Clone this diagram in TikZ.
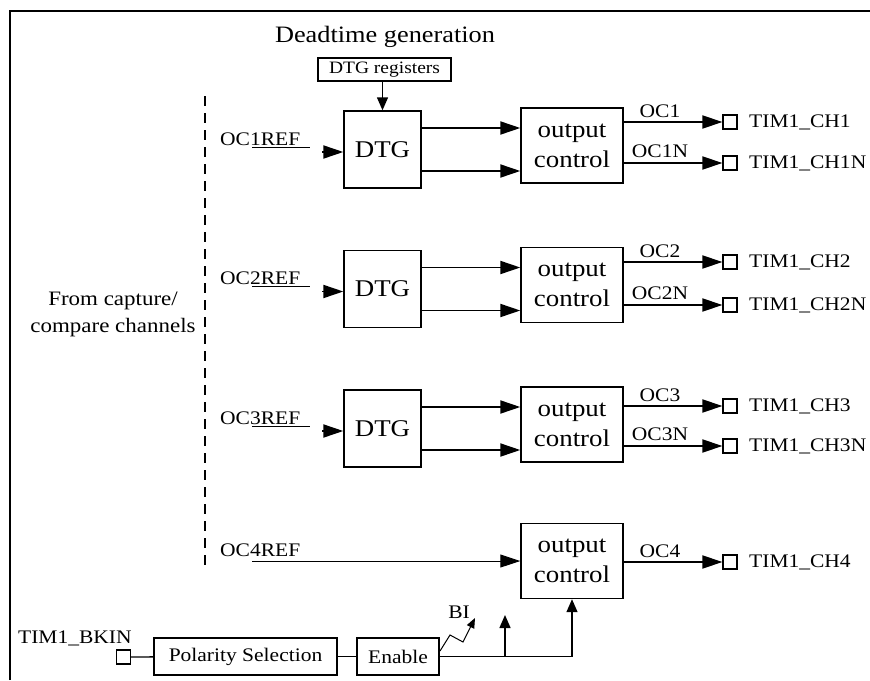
\documentclass[tikz,border=0pt]{standalone}
\usepackage{fontspec}
\setmainfont[FakeStretch=1.12]{Liberation Serif}
\usetikzlibrary{arrows.meta,calc}
\begin{document}
\begin{tikzpicture}[x=1pt,y=-1pt,
  blk/.style={draw,line width=1.4pt,inner sep=0pt,align=center},
  dtgbox/.style={blk,minimum width=77pt,minimum height=77pt,font=\fontsize{24}{28}\selectfont},
  ocbox/.style={blk,minimum width=102pt,minimum height=75pt,font=\fontsize{24}{30}\selectfont},
  pinbox/.style={draw,line width=1.2pt,minimum size=14pt,inner sep=0pt},
  lbl/.style={font=\fontsize{19.2}{22}\selectfont,inner sep=0pt},
  sig/.style={line width=1.9pt},
  harr/.style={sig,-{Triangle[length=20pt,width=13pt]}},
  varr/.style={line width=1.4pt,-{Triangle[length=13pt,width=11pt]}},
]
\useasboundingbox (0,0) rectangle (870,680);
\draw[line width=1.5pt] (10,680) -- (10,11) -- (870,11);

\node[font=\fontsize{23.5}{27}\selectfont] (title) at (385,37) {Deadtime generation};
\node[blk,minimum width=133pt,minimum height=23pt,font=\fontsize{17.4}{20}\selectfont] (regs) at (384.5,69.5) {DTG registers};

\draw[line width=1.3pt,dash pattern=on 10pt off 7pt] (205,96) -- (205,570);
\node[font=\fontsize{20.5}{27}\selectfont,align=center,inner sep=0pt] (from) at (113,314) {From capture/\\compare channels};

\foreach \i/\dy/\ya/\yb in {1/0/122/163, 2/139.5/262/305, 3/279/406/446}{
  \node[dtgbox] (dtg\i) at (382.5,149.5+\dy) {DTG};
  \node[ocbox] (oc\i) at (572,145.5+\dy) {output\\control};
  \node[lbl,anchor=base west] (ref\i) at (220,145+\dy) {OC\i REF};
  \coordinate (ua\i) at (252,147+\dy);
  \coordinate (ub\i) at (310,147+\dy);
  \draw[line width=1pt] (ua\i) -- (ub\i);
  \coordinate (in\i) at (322,152+\dy);
  \draw[harr] (in\i) -- (in\i -| dtg\i.west);
  \coordinate (ta\i) at (421,128+\dy);
  \coordinate (tb\i) at (421,171+\dy);
  \draw[harr] (dtg\i.east |- ta\i) -- (oc\i.west |- ta\i);
  \draw[harr] (dtg\i.east |- tb\i) -- (oc\i.west |- tb\i);
  \node[pinbox] (pa\i) at (730,\ya) {};
  \node[pinbox] (pb\i) at (730,\yb) {};
  \draw[harr] (oc\i.east |- pa\i) -- (pa\i.west);
  \draw[harr] (oc\i.east |- pb\i) -- (pb\i.west);
  \node[lbl,anchor=west] (cha\i) at (749,\ya) {TIM1\_CH\i};
  \node[lbl,anchor=west] (chb\i) at (749,\yb) {TIM1\_CH\i N};
  \node[lbl,anchor=base] (oca\i) at (660,\ya-5) {OC\i};
  \node[lbl,anchor=base] (ocb\i) at (660,\yb-6) {OC\i N};
}
\draw[varr] (regs.south -| dtg1.north) -- (dtg1.north);

% channel 4
\node[ocbox] (oc4) at (572,561) {output\\control};
\node[lbl,anchor=base west] (ref4) at (220,556) {OC4REF};
\coordinate (u4) at (252,561);
\draw[line width=1pt,-{Triangle[length=20pt,width=13pt]}] (u4) -- (oc4.west);
\node[pinbox] (p4) at (730,562) {};
\draw[harr] (oc4.east |- p4) -- (p4.west);
\node[lbl,anchor=west] (ch4) at (749,562) {TIM1\_CH4};
\node[lbl,anchor=base] (oc4l) at (660,557) {OC4};

% break input
\node[lbl,anchor=west] (bkinlbl) at (18,638) {TIM1\_BKIN};
\node[pinbox] (bkin) at (123.5,657) {};
\node[blk,lbl,minimum width=183pt,minimum height=37pt] (pol) at (245.5,656.5) {Polarity Selection};
\node[blk,lbl,minimum width=82pt,minimum height=37pt] (en) at (398,656.5) {Enable};
\draw[line width=1.3pt] (bkin) -- (pol);
\draw[line width=1.3pt] (pol) -- (en);
\draw[varr] (en.east) -| (oc4.south);
\coordinate (br) at (505,615);
\draw[varr] (br |- en.east) -- (br);
\coordinate (bs) at (440,651);
\coordinate (bi) at (475,618);
\draw[line width=1pt,-{Triangle[length=10pt,width=8pt]}] (bs) -- (450,635) -- (463,642) -- (bi);
\node[lbl] (bil) at (459,612) {BI};
\end{tikzpicture}
\end{document}
